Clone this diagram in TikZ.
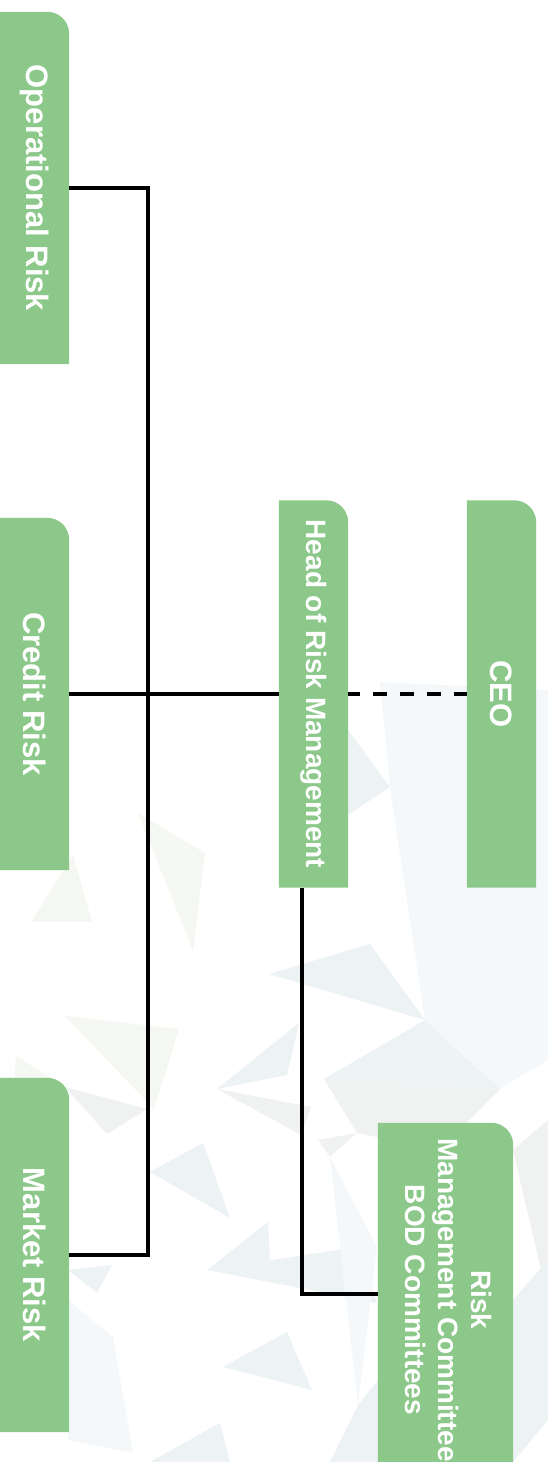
\documentclass[tikz,border=0pt]{standalone}
\usepackage{fontspec}
\setmainfont{Liberation Sans}
\usepackage{graphicx}
\usetikzlibrary{backgrounds}

\definecolor{boxgreen}{RGB}{140,200,138}
\definecolor{polyA}{RGB}{237,243,245}
\definecolor{polyB}{RGB}{245,248,242}
\definecolor{polyC}{RGB}{245,248,250}
\definecolor{polyD}{RGB}{240,242,242}

\pgfdeclarelayer{deco}
\pgfsetlayers{deco,background,main}

% green tab behind a node: square corners except the top-right one
\newcommand\tabfill[1]{%
  \fill[boxgreen] (#1.south west) -- (#1.north west)
    -- ([xshift=-22pt]#1.north east) arc[start angle=90,end angle=0,radius=22pt]
    -- (#1.south east) -- cycle;}

\tikzset{
  tab/.style={minimum width=69pt, minimum height=352pt, inner sep=0pt,
    text=white, font=\bfseries\fontsize{31}{37}\selectfont},
  tall/.style={minimum height=387pt},
  small/.style={font=\bfseries\fontsize{28}{33}\selectfont},
  link/.style={line width=3.2pt, black, line join=miter},
  dotted link/.style={link, dash pattern=on 14pt off 13pt, dash phase=2pt},
  shardA/.style={fill=polyA},
  shardB/.style={fill=polyB},
  shardC/.style={fill=polyC},
  shardD/.style={fill=polyD},
}

\begin{document}
\begin{tikzpicture}[x=1pt,y=1pt]
\clip (0,0) rectangle (548,1462);
\useasboundingbox (0,0) rectangle (548,1462);

\begin{scope}[shift={(0,1462)}, yscale=-1]
  % faint low-poly backdrop
  \begin{pgfonlayer}{deco}
    \fill[white] (0,0) rectangle (548,1462);
    \fill[shardC] (380,682) -- (548,690) -- (548,888) -- (390,788) -- cycle;
    \fill[shardC] (390,788) -- (467,837) -- (548,888) -- (548,965) -- (425,1020) -- cycle;
    \fill[shardA] (348,730) -- (390,787) -- (348,815) -- cycle;
    \fill[shardB] (31,922) -- (73,855) -- (92,922) -- cycle;
    \fill[shardB] (138,813) -- (205,853) -- (193,951) -- cycle;
    \fill[shardB] (65,1016) -- (179,1029) -- (154,1109) -- cycle;
    \fill[shardB] (16,1056) -- (65,1087) -- (10,1136) -- cycle;
    \fill[shardD] (65,1087) -- (147,1109) -- (107,1134) -- cycle;
    \fill[shardA] (269,974) -- (370,944) -- (425,1020) -- cycle;
    \fill[shardA] (217,1089) -- (299,1023) -- (287,1075) -- cycle;
    \fill[shardD] (217,1089) -- (311,1107) -- (301,1135) -- cycle;
    \fill[shardA] (324,1079) -- (425,1020) -- (500,1089) -- cycle;
    \fill[shardC] (425,1020) -- (548,965) -- (548,1060) -- (500,1089) -- cycle;
    \fill[shardD] (324,1079) -- (500,1089) -- (440,1150) -- (357,1133) -- cycle;
    \fill[shardA] (150,1172) -- (203,1143) -- (230,1218) -- cycle;
    \fill[shardA] (207,1270) -- (268,1222) -- (270,1260) -- cycle;
    \fill[shardA] (207,1270) -- (357,1247) -- (377,1303) -- cycle;
    \fill[shardA] (223,1367) -- (287,1332) -- (312,1390) -- cycle;
    \fill[shardA] (150,1462) -- (220,1423) -- (230,1462) -- cycle;
    \fill[shardD] (318,1140) -- (357,1133) -- (330,1157) -- cycle;
    \fill[shardC] (330,1157) -- (377,1247) -- (358,1405) -- cycle;
    \fill[shardA] (358,1405) -- (378,1380) -- (378,1462) -- (330,1462) -- cycle;
    \fill[shardA] (68,1270) -- (112,1265) -- (97,1293) -- cycle;
    \fill[shardC] (68,1300) -- (113,1337) -- (133,1453) -- (68,1440) -- cycle;
    \fill[shardD] (513,1150) -- (548,1120) -- (548,1300) -- cycle;
    \fill[shardA] (513,1300) -- (548,1260) -- (548,1420) -- (513,1462) -- cycle;
  \end{pgfonlayer}

  % boxes
  \node[tab] (op) at (34.5,188) {\rotatebox{-90}{Operational Risk}};
  \node[tab] (credit) at (34.5,694) {\rotatebox{-90}{Credit Risk}};
  \node[tab, minimum height=354pt] (market) at (34.5,1255) {\rotatebox{-90}{Market Risk}};
  \node[tab, tall, small] (head) at (313.5,694) {\rotatebox{-90}{Head of Risk Management}};
  \node[tab, tall] (ceo) at (501.5,694) {\rotatebox{-90}{CEO}};
  \node[tab, small, minimum width=135pt, minimum height=354pt] (comm) at (445.5,1300)
    {\rotatebox{-90}{\begin{tabular}{@{}c@{}}Risk\\Management Committee\\BOD Committees\end{tabular}}};

  % connector guides
  \coordinate (trunk) at (148,0);
  \coordinate (drop) at (302,0);
  \coordinate (foot) at (0,1294);

  % connectors
  \draw[link] (op.east) -- (op.east -| trunk) -- (market.east -| trunk) -- (market.east);
  \draw[link] (credit.east) -- (head.west);
  \draw[dotted link] (head.east) -- (ceo.west);
  \draw[link] (head.south -| drop) -- (drop |- foot) -- (comm.west |- foot);
\end{scope}

\begin{pgfonlayer}{background}
  \tabfill{op}
  \tabfill{credit}
  \tabfill{market}
  \tabfill{head}
  \tabfill{ceo}
  \tabfill{comm}
\end{pgfonlayer}
\end{tikzpicture}
\end{document}
